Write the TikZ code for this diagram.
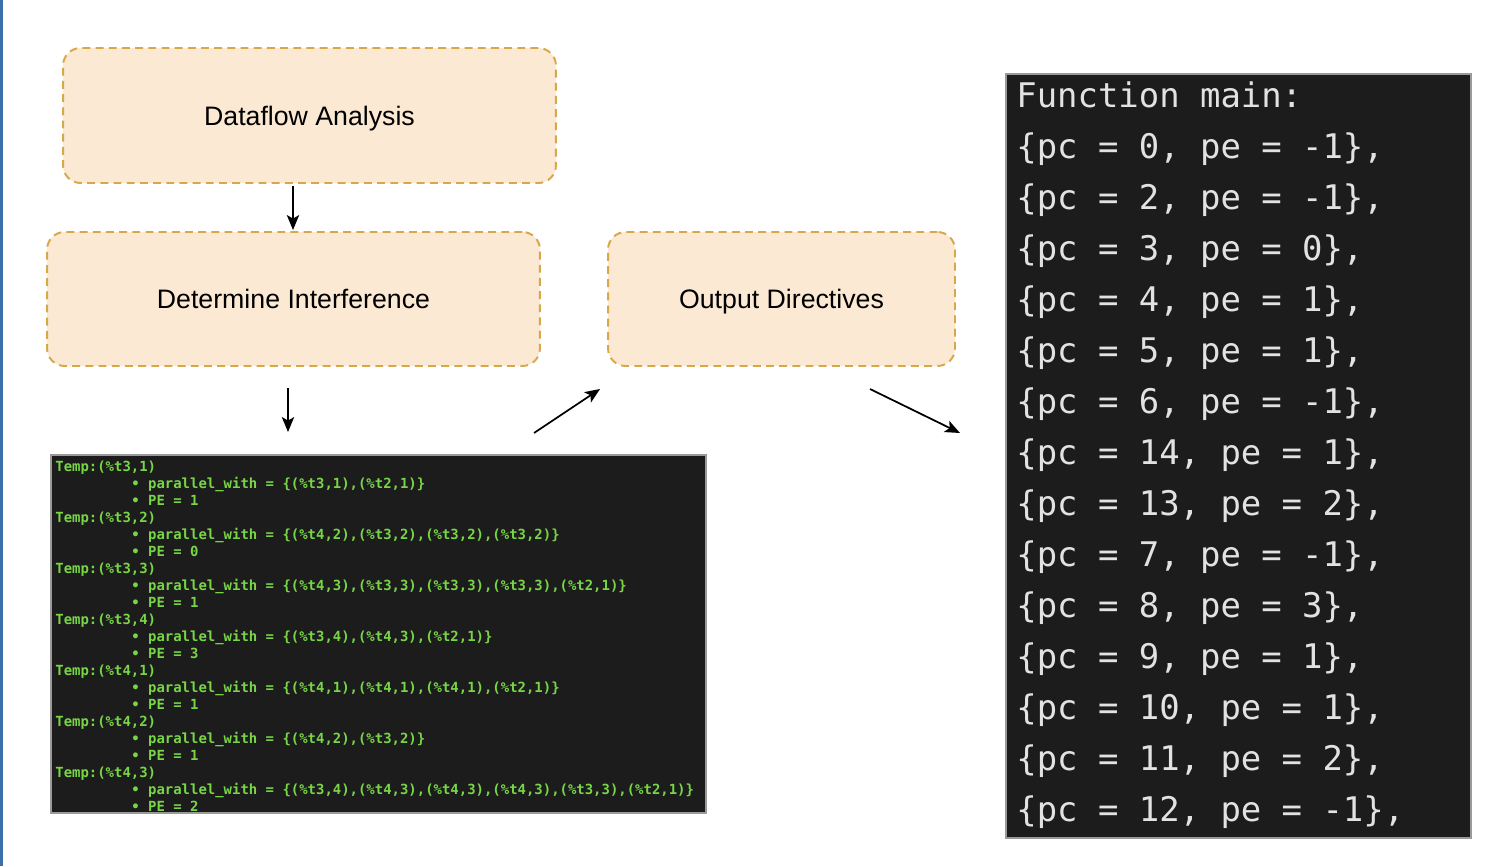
\documentclass[tikz,border=0pt]{standalone}
\usepackage{fontspec}
\setmainfont{Liberation Sans}
\newfontfamily\termfont{DejaVu Sans Mono}
\newfontfamily\termfontb{DejaVu Sans Mono Bold}
\usetikzlibrary{arrows.meta}
\definecolor{boxfill}{HTML}{FCE9D4}
\definecolor{boxline}{HTML}{D6A84A}
\definecolor{termbg}{HTML}{1C1C1C}
\definecolor{termgreen}{HTML}{78D646}
\definecolor{termtext}{HTML}{E2E2E2}
\definecolor{termedge}{HTML}{9A9A9A}
\definecolor{winblue}{HTML}{3D6FA8}
\begin{document}
\begin{tikzpicture}[x=0.02cm,y=-0.02cm,
  stepbox/.style={draw=boxline, fill=boxfill, line width=1.1pt,
    dash pattern=on 4.5pt off 3pt, rounded corners=10pt, inner sep=0pt,
    text height=10.9pt, text depth=0pt,
    font=\fontsize{15.2}{18}\selectfont},
  term/.style={draw=termedge, line width=0.8pt, fill=termbg, inner sep=0pt},
  gline/.style={anchor=west, inner sep=0pt, text height=0.75em, text depth=0.25em,
    text=termgreen, font=\termfontb\fontsize{7.94}{9}\selectfont},
  rline/.style={anchor=west, inner sep=0pt, text height=0.75em, text depth=0.25em,
    text=termtext, font=\termfont\fontsize{19.3}{22}\selectfont},
  flow/.style={line width=1pt, -{Stealth[length=8.5pt, width=7pt, inset=2pt]}}]
\useasboundingbox (0,0) rectangle (1496,866);
\fill[white] (0,0) rectangle (1496,866);
\fill[winblue] (0,0) rectangle (2.5,866);

\node[stepbox, minimum width=9.86cm, minimum height=2.7cm] (dfa) at (309.5,115.5) {Dataflow Analysis};
\node[stepbox, minimum width=9.86cm, minimum height=2.68cm] (det) at (293.5,299) {Determine Interference};
\node[stepbox, minimum width=6.94cm, minimum height=2.68cm] (out) at (781.5,299) {Output Directives};

\node[term, minimum width=13.1cm, minimum height=7.16cm] (gterm) at (378.5,634) {};
\node[term, minimum width=9.3cm, minimum height=15.28cm] (rterm) at (1238.5,456) {};

\foreach \t [count=\i] in {
  {Temp:(\%t3,1)}, {• parallel\_with = \{(\%t3,1),(\%t2,1)\}}, {• PE = 1},
  {Temp:(\%t3,2)}, {• parallel\_with = \{(\%t4,2),(\%t3,2),(\%t3,2),(\%t3,2)\}}, {• PE = 0},
  {Temp:(\%t3,3)}, {• parallel\_with = \{(\%t4,3),(\%t3,3),(\%t3,3),(\%t3,3),(\%t2,1)\}}, {• PE = 1},
  {Temp:(\%t3,4)}, {• parallel\_with = \{(\%t3,4),(\%t4,3),(\%t2,1)\}}, {• PE = 3},
  {Temp:(\%t4,1)}, {• parallel\_with = \{(\%t4,1),(\%t4,1),(\%t4,1),(\%t2,1)\}}, {• PE = 1},
  {Temp:(\%t4,2)}, {• parallel\_with = \{(\%t4,2),(\%t3,2)\}}, {• PE = 1},
  {Temp:(\%t4,3)}, {• parallel\_with = \{(\%t3,4),(\%t4,3),(\%t4,3),(\%t4,3),(\%t3,3),(\%t2,1)\}}, {• PE = 2}}
{
  \pgfmathtruncatemacro\r{mod(\i-1,3)}
  \ifnum\r=0
    \node[gline] (g\i) at (55,467+17*\i-17) {\t};
  \else
    \node[gline] (g\i) at (131,467+17*\i-17) {\t};
  \fi
}

\foreach \t [count=\i] in {
  {Function main:}, {\{pc = 0, pe = -1\},}, {\{pc = 2, pe = -1\},}, {\{pc = 3, pe = 0\},},
  {\{pc = 4, pe = 1\},}, {\{pc = 5, pe = 1\},}, {\{pc = 6, pe = -1\},}, {\{pc = 14, pe = 1\},},
  {\{pc = 13, pe = 2\},}, {\{pc = 7, pe = -1\},}, {\{pc = 8, pe = 3\},}, {\{pc = 9, pe = 1\},},
  {\{pc = 10, pe = 1\},}, {\{pc = 11, pe = 2\},}, {\{pc = 12, pe = -1\},}}
{
  \node[rline] (r\i) at (1016,103+51*\i-51) {\t};
}

\coordinate (a1s) at (293,186);
\coordinate (a1e) at (293,230);
\coordinate (a2s) at (288,388);
\coordinate (a2e) at (288,432);
\coordinate (a3s) at (534,433);
\coordinate (a3e) at (600,389);
\coordinate (a4s) at (870,389);
\coordinate (a4e) at (960,433);
\draw[flow] (a1s) -- (a1e);
\draw[flow] (a2s) -- (a2e);
\draw[flow] (a3s) -- (a3e);
\draw[flow] (a4s) -- (a4e);
\end{tikzpicture}
\end{document}
